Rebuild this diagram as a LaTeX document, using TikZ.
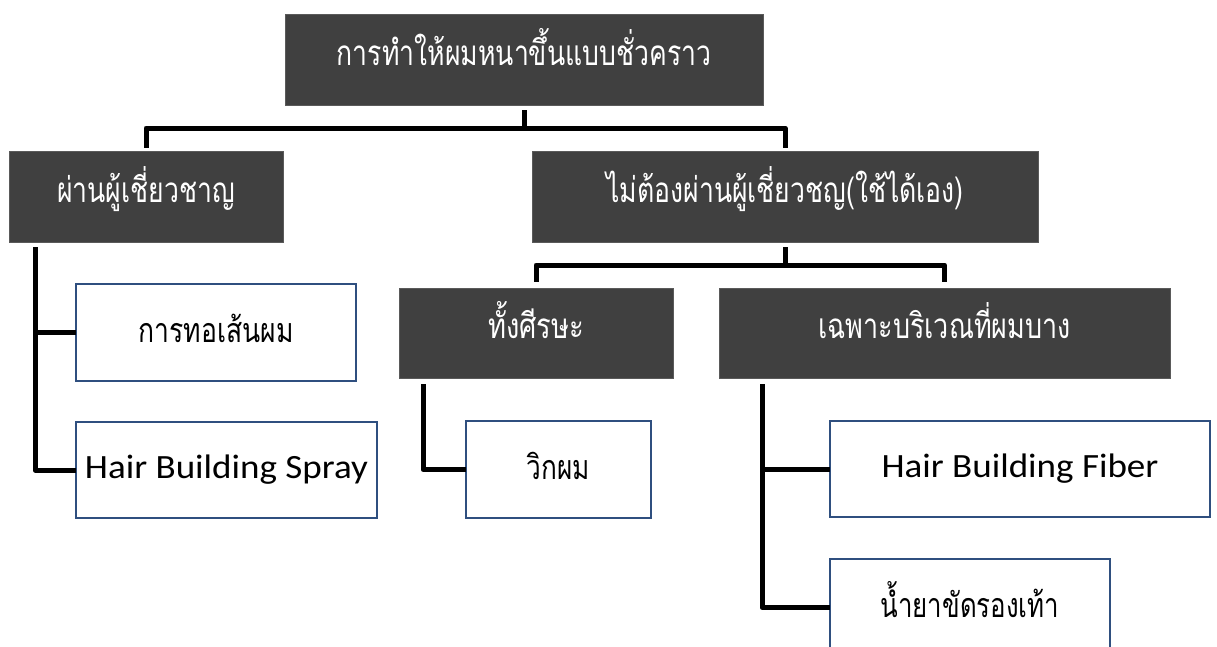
\documentclass[tikz,border=0pt]{standalone}
\usepackage{fontspec}
\usepackage{graphicx}
\newfontfamily\thaifont[Script=Thai]{Loma}
\newfontfamily\engfont{Carlito}
\definecolor{darkbox}{HTML}{404040}
\definecolor{darkedge}{HTML}{5A5A5A}
\definecolor{blueedge}{HTML}{2F4F7F}
\newcommand\hsqz[2]{\scalebox{#1}[1]{#2}}
\tikzset{
  headbox/.style={draw=darkedge, line width=0.8pt, fill=darkbox, text=white, inner sep=0pt, outer sep=0pt, align=center, text height=19pt, text depth=8pt, font=\thaifont\fontsize{35}{40}\selectfont},
  leafbox/.style={draw=blueedge, line width=1.2pt, fill=white, text=black, inner sep=0pt, outer sep=0pt, align=center, text height=24pt, text depth=4pt, font=\thaifont\fontsize{34}{40}\selectfont},
  engleaf/.style={draw=blueedge, line width=1.2pt, fill=white, text=black, inner sep=0pt, outer sep=0pt, align=center, font=\engfont\fontsize{34}{40}\selectfont},
  conn/.style={line width=5pt, black, line join=round}
}
\begin{document}
\begin{tikzpicture}[x=1pt, y=-1pt]
\useasboundingbox (0,0) rectangle (1217,646);
\clip (0,0) rectangle (1217,646);
\fill[white] (0,0) rectangle (1217,646);
% heading boxes
\node[headbox, minimum width=478pt, minimum height=91pt] (top) at (524,59.5) {\hsqz{0.76}{การทำให้ผมหนาขึ้นแบบชั่วคราว}};
\node[headbox, minimum width=274pt, minimum height=91pt] (L) at (146,196.5) {\hsqz{0.76}{ผ่านผู้เชี่ยวชาญ}};
\node[headbox, minimum width=506pt, minimum height=91pt] (R) at (785,196.5) {\hsqz{0.76}{ไม่ต้องผ่านผู้เชี่ยวชญ(ใช้ได้เอง)}};
\node[headbox, minimum width=274pt, minimum height=90pt] (RL) at (536,333) {\hsqz{0.78}{ทั้งศีรษะ}};
\node[headbox, minimum width=451pt, minimum height=90pt] (RR) at (944.5,333) {\hsqz{0.77}{เฉพาะบริเวณที่ผมบาง}};
% leaf boxes
\node[leafbox, minimum width=280pt, minimum height=97pt] (c1) at (216,332.5) {\hsqz{0.78}{การทอเส้นผม}};
\node[engleaf, minimum width=301pt, minimum height=96pt] (c2) at (226.5,470) {\hsqz{1.09}{Hair Building Spray}};
\node[leafbox, minimum width=185pt, minimum height=97pt] (d1) at (558.5,469.5) {\hsqz{0.77}{วิกผม}};
\node[engleaf, minimum width=380pt, minimum height=96pt] (d2) at (1020,469) {\hsqz{1.09}{Hair Building Fiber}};
\node[leafbox, minimum width=280pt, minimum height=97pt] (d3) at (970,607.5) {\hsqz{0.76}{น้ำยาขัดรองเท้า}};
% connectors
\draw[conn, shorten <=5pt, shorten >=3pt] (top.south) -- ++(0,23) -| (L.north);
\draw[conn, shorten <=5pt, shorten >=3pt] (top.south) -- ++(0,23) -| (R.north);
\draw[conn, shorten <=5pt, shorten >=6pt] (R.south) -- ++(0,23) -| (RL.north);
\draw[conn, shorten <=5pt, shorten >=6pt] (R.south) -- ++(0,23) -| (RR.north);
\coordinate (La) at ([xshift=26pt, yshift=-5pt]L.south west);
\draw[conn] (La) |- (c1.west);
\draw[conn] (La) |- (c2.west);
\coordinate (RLa) at ([xshift=24pt, yshift=-6pt]RL.south west);
\draw[conn] (RLa) |- (d1.west);
\coordinate (RRa) at ([xshift=43pt, yshift=-6pt]RR.south west);
\draw[conn] (RRa) |- (d2.west);
\draw[conn] (RRa) |- (d3.west);
\end{tikzpicture}
\end{document}
